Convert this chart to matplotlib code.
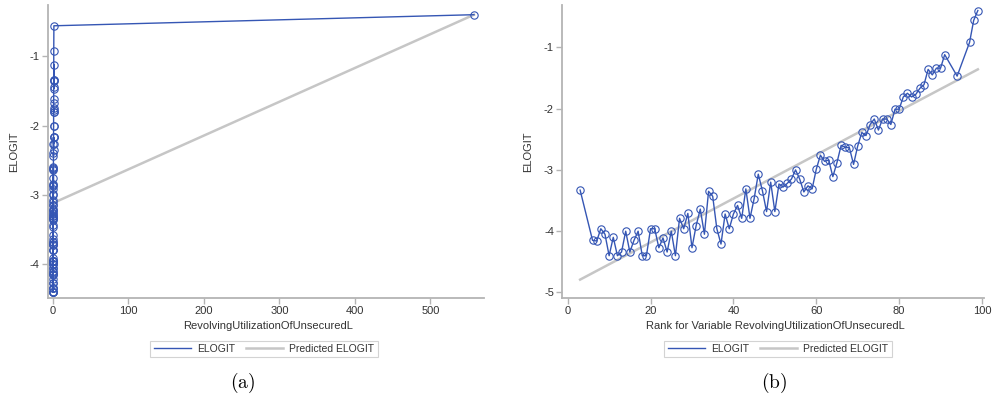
import matplotlib
matplotlib.use("Agg")
import matplotlib.pyplot as plt
from matplotlib.lines import Line2D

plt.rcParams['font.family'] = ['Liberation Sans', 'DejaVu Sans']
plt.rcParams['mathtext.fontset'] = 'cm'

# ---- data ----
rank = [3, 6, 7, 8, 9, 10, 11, 12, 13, 14, 15, 16, 17, 18, 19, 20, 21, 22, 23, 24,
        25, 26, 27, 28, 29, 30, 31, 32, 33, 34, 35, 36, 37, 38, 39, 40, 41, 42, 43, 44,
        45, 46, 47, 48, 49, 50, 51, 52, 53, 54, 55, 56, 57, 58, 59, 60, 61, 62, 63, 64,
        65, 66, 67, 68, 69, 70, 71, 72, 73, 74, 75, 76, 77, 78, 79, 80, 81, 82, 83, 84,
        85, 86, 87, 88, 89, 90, 91, 94, 97, 98, 99]

elogit = [-3.33, -4.15, -4.16, -3.96, -4.05, -4.40, -4.10, -4.40, -4.34, -4.00,
          -4.34, -4.15, -4.00, -4.40, -4.40, -3.96, -3.96, -4.27, -4.11, -4.34,
          -4.00, -4.40, -3.79, -3.96, -3.71, -4.27, -3.91, -3.64, -4.05, -3.35,
          -3.43, -3.96, -4.21, -3.72, -3.96, -3.72, -3.58, -3.79, -3.31, -3.79,
          -3.47, -3.07, -3.34, -3.68, -3.20, -3.68, -3.23, -3.28, -3.22, -3.15,
          -3.00, -3.15, -3.36, -3.26, -3.31, -2.99, -2.76, -2.86, -2.84, -3.11,
          -2.88, -2.60, -2.63, -2.64, -2.91, -2.61, -2.39, -2.44, -2.26, -2.17,
          -2.35, -2.17, -2.17, -2.26, -2.01, -2.01, -1.81, -1.75, -1.81, -1.77,
          -1.67, -1.61, -1.36, -1.45, -1.34, -1.34, -1.12, -1.47, -0.92, -0.56, -0.40]

# mean RevolvingUtilizationOfUnsecuredL per rank group (estimated)
util_mean = [0.0, 0.0003, 0.0013, 0.0025, 0.0039, 0.0055, 0.0072, 0.009, 0.011, 0.0131,
             0.0153, 0.0177, 0.0202, 0.0229, 0.0257, 0.0287, 0.0318, 0.0351, 0.0386, 0.0422,
             0.046, 0.05, 0.0542, 0.0586, 0.0632, 0.068, 0.0731, 0.0784, 0.084, 0.0898,
             0.0959, 0.1023, 0.109, 0.116, 0.1233, 0.131, 0.139, 0.1474, 0.1561, 0.1653,
             0.1748, 0.1847, 0.1951, 0.2059, 0.2171, 0.2288, 0.241, 0.254, 0.267, 0.281,
             0.295, 0.31, 0.325, 0.341, 0.357, 0.374, 0.391, 0.409, 0.428, 0.447,
             0.467, 0.487, 0.508, 0.529, 0.551, 0.574, 0.597, 0.62, 0.644, 0.668,
             0.692, 0.717, 0.741, 0.766, 0.79, 0.814, 0.838, 0.861, 0.883, 0.904,
             0.923, 0.941, 0.957, 0.97, 0.981, 0.99, 0.997, 1.0, 1.012, 1.18, 557.6]

# predicted ELOGIT line endpoints
pred_util_x = [0.0, 557.6]
pred_util_y = [-3.12, -0.40]
pred_rank_x = [3, 99]
pred_rank_y = [-4.79, -1.36]

left_xticks = [0, 100, 200, 300, 400, 500]
left_yticks = [-1, -2, -3, -4]
right_xticks = [0, 20, 40, 60, 80, 100]
right_yticks = [-1, -2, -3, -4, -5]

# ---- style ----
BLUE = '#3556b4'
GRAY = '#c6c6c6'
SPINE = '#b4b4b4'
TXT = '#333333'

fig = plt.figure(figsize=(9.94, 4.0), dpi=100)
axL = fig.add_axes([0.048, 0.255, 0.439, 0.7325])
axR = fig.add_axes([0.5657, 0.255, 0.4243, 0.7325])


def style(ax):
    for s in ['top', 'right']:
        ax.spines[s].set_visible(False)
    for s in ['left', 'bottom']:
        ax.spines[s].set_color(SPINE)
        ax.spines[s].set_linewidth(1.3)
    ax.tick_params(axis='both', colors=SPINE, labelcolor=TXT, labelsize=8,
                   length=4, width=1, direction='out', pad=2)


def draw(ax, x, y, px, py):
    ax.plot(px, py, color=GRAY, lw=1.8, zorder=2)
    ax.plot(x, y, color=BLUE, lw=1.0, marker='o', markersize=5.3,
            markerfacecolor='none', markeredgecolor=BLUE, markeredgewidth=0.8,
            zorder=3)


draw(axL, util_mean, elogit, pred_util_x, pred_util_y)
draw(axR, rank, elogit, pred_rank_x, pred_rank_y)

style(axL)
style(axR)

axL.set_xlim(-7, 571)
axL.set_ylim(-4.49, -0.26)
axL.set_xticks(left_xticks)
axL.set_yticks(left_yticks)
axL.set_xticklabels([str(v) for v in left_xticks])
axL.set_yticklabels([str(v) for v in left_yticks])

axR.set_xlim(-1.3, 100.5)
axR.set_ylim(-5.09, -0.31)
axR.set_xticks(right_xticks)
axR.set_yticks(right_yticks)
axR.set_xticklabels([str(v) for v in right_xticks])
axR.set_yticklabels([str(v) for v in right_yticks])

axL.set_xlabel('RevolvingUtilizationOfUnsecuredL', fontsize=8, color=TXT)
axL.set_ylabel('ELOGIT', fontsize=8, color=TXT)
axR.set_xlabel('Rank for Variable RevolvingUtilizationOfUnsecuredL', fontsize=8, color=TXT)
axR.set_ylabel('ELOGIT', fontsize=8, color=TXT)
axL.xaxis.set_label_coords(0.505, -0.08)
axR.xaxis.set_label_coords(0.505, -0.08)
axL.yaxis.set_label_coords(-0.066, 0.5)
axR.yaxis.set_label_coords(-0.07, 0.5)

handles = [Line2D([], [], color=BLUE, lw=1.0), Line2D([], [], color=GRAY, lw=1.8)]
labels = ['ELOGIT', 'Predicted ELOGIT']
for cx in [264 / 994, 778 / 994]:
    leg = fig.legend(handles, labels, loc='center', bbox_to_anchor=(cx, 0.1275),
                     ncol=2, fontsize=7.5, frameon=True, fancybox=False,
                     handlelength=3.6, handletextpad=0.6, columnspacing=1.0,
                     borderpad=0.3, borderaxespad=0)
    leg.get_frame().set_edgecolor('#c8c8c8')
    leg.get_frame().set_linewidth(0.8)
    for t in leg.get_texts():
        t.set_color(TXT)

fig.text(243 / 994, 0.0425, r'$\mathrm{(a)}$', fontsize=14, ha='center', va='center')
fig.text(774 / 994, 0.0425, r'$\mathrm{(b)}$', fontsize=14, ha='center', va='center')

fig.savefig('out.png', dpi=100)
